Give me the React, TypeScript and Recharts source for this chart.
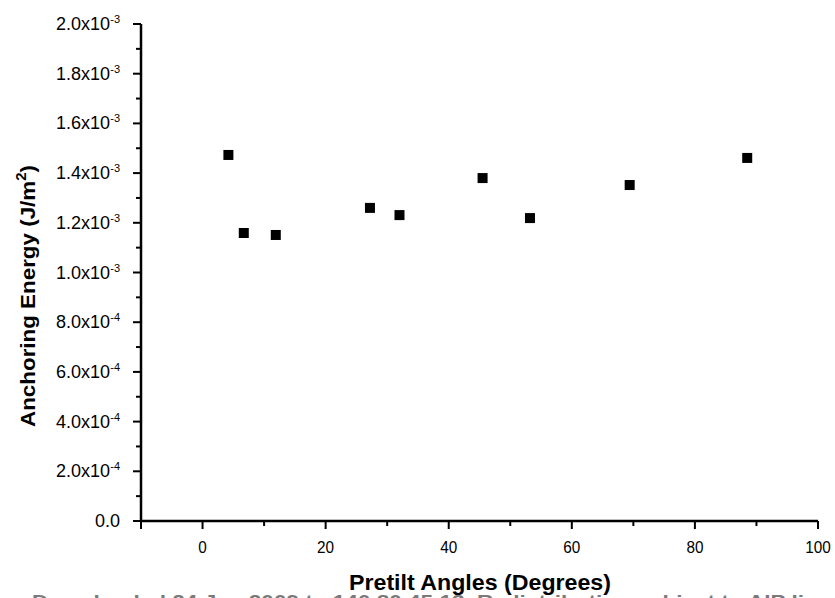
import React from "react";
import { ScatterChart, Scatter, XAxis, YAxis } from "recharts";

// pretilt angle (deg) vs anchoring energy (J/m^2)
const angles = [4.2, 6.7, 11.9, 27.2, 32.0, 45.5, 53.2, 69.4, 88.5];
const energies = [1.473e-3, 1.159e-3, 1.151e-3, 1.26e-3, 1.231e-3, 1.38e-3, 1.219e-3, 1.352e-3, 1.461e-3];

const xTicks = [-10, 0, 10, 20, 30, 40, 50, 60, 70, 80, 90, 100];
const xTickLabels = ["", "0", "", "20", "", "40", "", "60", "", "80", "", "100"];

const yTicks = [
  0, 0.0001, 0.0002, 0.0003, 0.0004, 0.0005, 0.0006, 0.0007, 0.0008, 0.0009, 0.001,
  0.0011, 0.0012, 0.0013, 0.0014, 0.0015, 0.0016, 0.0017, 0.0018, 0.0019, 0.002,
];
const yMantissa = ["0.0", "", "2.0", "", "4.0", "", "6.0", "", "8.0", "", "1.0", "", "1.2", "", "1.4", "", "1.6", "", "1.8", "", "2.0"];
const yExponent = ["", "", "-4", "", "-4", "", "-4", "", "-4", "", "-3", "", "-3", "", "-3", "", "-3", "", "-3", "", "-3"];

const data = angles.map((a, i) => ({ angle: a, energy: energies[i] }));

const FONT = '"Liberation Sans", Arial, sans-serif';

const XTick = (props: any) => {
  const { x, y, index } = props;
  const label = xTickLabels[index];
  const major = label !== "" || index === 0;
  return (
    <g>
      <line x1={x} x2={x} y1={y} y2={y + (major ? 8 : 5)} stroke="#000" strokeWidth={2} />
      {label && (
        <text
          x={x}
          y={y + 32}
          textAnchor="middle"
          fontFamily={FONT}
          fontSize={17}
          fill="#000"
          transform={`translate(${x} 0) scale(0.9 1) translate(${-x} 0)`}
        >
          {label}
        </text>
      )}
    </g>
  );
};

const YTick = (props: any) => {
  const { x, y, index } = props;
  const m = yMantissa[index];
  const e = yExponent[index];
  const major = m !== "";
  return (
    <g>
      <line x1={x} x2={x - (major ? 8 : 5)} y1={y} y2={y} stroke="#000" strokeWidth={2} />
      {major && (
        <text x={x - 21 - (e ? 10 : 0)} y={y + 6} textAnchor="end" fontFamily={FONT} fontSize={18} fill="#000">
          {m}
          {e ? "x10" : ""}
        </text>
      )}
      {major && e && (
        <text x={x - 21} y={y - 1} textAnchor="end" fontFamily={FONT} fontSize={11} fill="#000">
          {e}
        </text>
      )}
    </g>
  );
};

const Square = (props: any) => {
  const { cx, cy } = props;
  return <rect x={cx - 5} y={cy - 5} width={10} height={10} fill="#000" />;
};

const Titles = () => (
  <g>
    <text
      x={32}
      y={608}
      fontFamily={FONT}
      fontWeight="bold"
      fontSize={19}
      fill="#7a7a7a"
      textLength={836}
      lengthAdjust="spacingAndGlyphs"
    >
      Downloaded 24 Jan 2009 to 140.80.45.13. Redistribution subject to AIP license
    </text>
    <text
      x={349}
      y={590}
      fontFamily={FONT}
      fontWeight="bold"
      fontSize={22}
      fill="#000"
      textLength={262}
      lengthAdjust="spacingAndGlyphs"
    >
      Pretilt Angles (Degrees)
    </text>
    <text
      transform="translate(35, 427) rotate(-90)"
      fontFamily={FONT}
      fontWeight="bold"
      fontSize={21}
      fill="#000"
      textLength={262}
      lengthAdjust="spacingAndGlyphs"
    >
      Anchoring Energy (J/m
      <tspan dy={-9} fontSize={14}>2</tspan>
      <tspan dy={9}>)</tspan>
    </text>
  </g>
);

const App = () => {
  return (
    <div style={{ position: "absolute", left: 0, top: 0, background: "#fff" }}>
      <ScatterChart width={835} height={598} margin={{ top: 24, right: 17, left: 0, bottom: 0 }}>
        <XAxis
          type="number"
          dataKey="angle"
          domain={[-10, 100]}
          ticks={xTicks}
          interval={0}
          tickSize={0}
          tickMargin={0}
          tickLine={false}
          tick={<XTick />}
          axisLine={{ stroke: "#000", strokeWidth: 2.5 }}
          height={77}
          label={{ content: () => <Titles /> }}
        />
        <YAxis
          type="number"
          dataKey="energy"
          domain={[0, 0.002]}
          ticks={yTicks}
          interval={0}
          tickSize={0}
          tickMargin={0}
          tickLine={false}
          tick={<YTick />}
          axisLine={{ stroke: "#000", strokeWidth: 2.5 }}
          width={141}
        />
        <Scatter data={data} fill="#000" shape={<Square />} isAnimationActive={false} />
      </ScatterChart>
    </div>
  );
};

export default App;
